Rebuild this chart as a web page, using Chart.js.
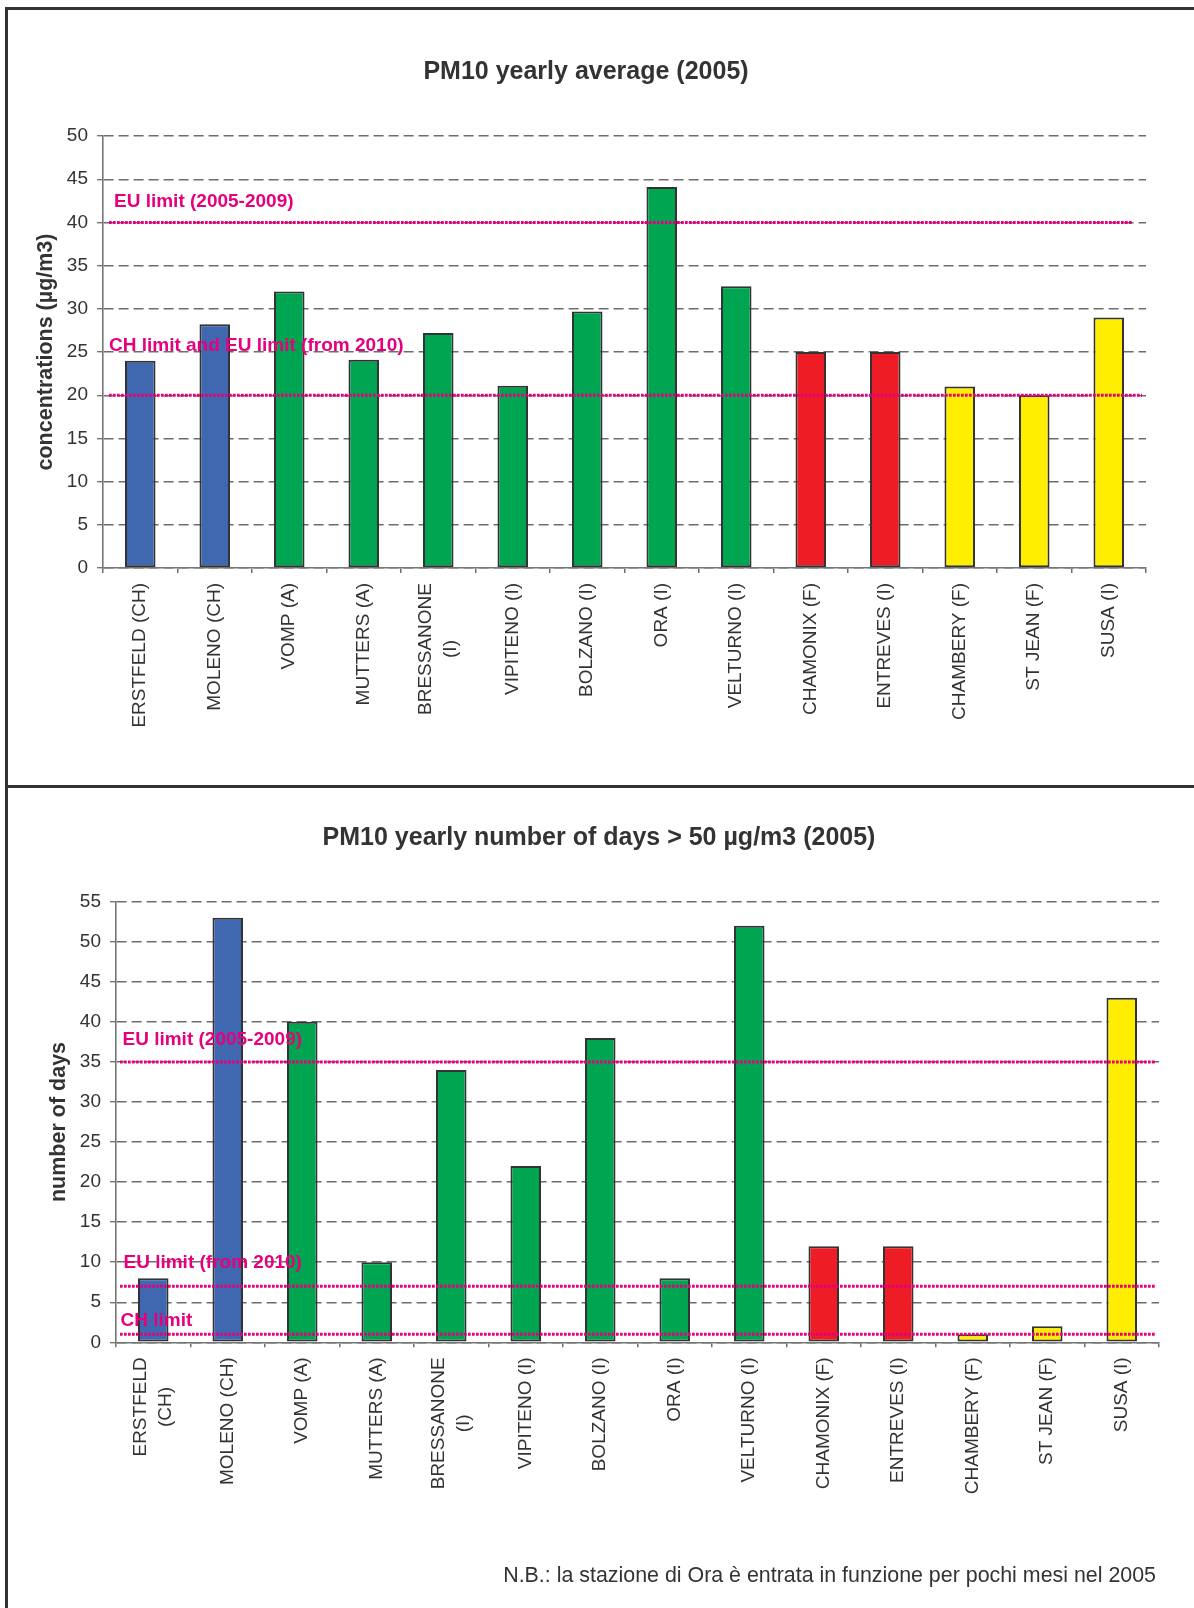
<!DOCTYPE html>
<html>
<head>
<meta charset="utf-8">
<script src="https://cdn.jsdelivr.net/npm/chart.js@4.4.0/dist/chart.umd.min.js"></script>
<style>
  html, body { margin: 0; padding: 0; background: #fff; }
  body { position: relative; width: 1194px; height: 1608px; overflow: hidden; font-family: "Liberation Sans", Arial, sans-serif; }
  canvas { position: absolute; left: 0; }
  #avgChart { top: 0; }
  #daysChart { top: 786px; }
  .rule { position: absolute; background: #333; }
  #note { position: absolute; right: 38px; top: 1562px; font-size: 21.4px; line-height: 26px; color: #333; white-space: nowrap; }
</style>
</head>
<body>
<canvas id="avgChart" width="1194" height="786"></canvas>
<canvas id="daysChart" width="1194" height="822"></canvas>
<div class="rule" style="left:5px; top:7px; width:1189px; height:3px;"></div>
<div class="rule" style="left:5px; top:7px; width:3px; height:1601px;"></div>
<div class="rule" style="left:5px; top:785px; width:1189px; height:3px;"></div>
<div id="note">N.B.: la stazione di Ora è entrata in funzione per pochi mesi nel 2005</div>
<script>
// Monitoring stations along the four Alpine transit corridors
const stations = ['ERSTFELD (CH)', 'MOLENO (CH)', 'VOMP (A)', 'MUTTERS (A)', 'BRESSANONE (I)', 'VIPITENO (I)',
  'BOLZANO (I)', 'ORA (I)', 'VELTURNO (I)', 'CHAMONIX (F)', 'ENTREVES (I)', 'CHAMBERY (F)', 'ST JEAN (F)', 'SUSA (I)'];
const avgLabels = ['ERSTFELD (CH)', 'MOLENO (CH)', 'VOMP (A)', 'MUTTERS (A)', ['BRESSANONE', '(I)'], 'VIPITENO (I)',
  'BOLZANO (I)', 'ORA (I)', 'VELTURNO (I)', 'CHAMONIX (F)', 'ENTREVES (I)', 'CHAMBERY (F)', 'ST JEAN (F)', 'SUSA (I)'];
const daysLabels = [['ERSTFELD', '(CH)'], 'MOLENO (CH)', 'VOMP (A)', 'MUTTERS (A)', ['BRESSANONE', '(I)'], 'VIPITENO (I)',
  'BOLZANO (I)', 'ORA (I)', 'VELTURNO (I)', 'CHAMONIX (F)', 'ENTREVES (I)', 'CHAMBERY (F)', 'ST JEAN (F)', 'SUSA (I)'];
const corridor = ['Gotthard', 'Gotthard', 'Brenner', 'Brenner', 'Brenner', 'Brenner', 'Brenner', 'Brenner', 'Brenner',
  'Mont Blanc', 'Mont Blanc', 'Frejus', 'Frejus', 'Frejus'];

// PM10 yearly average concentration (µg/m3)
const yearlyAverage = [24, 28.2, 32, 24.1, 27.2, 21.1, 29.7, 44.1, 32.6, 25, 25, 21, 20, 29];
// number of days with PM10 daily mean > 50 µg/m3
const daysOver50 = [8, 53, 40, 10, 34, 22, 38, 8, 52, 12, 12, 1, 2, 43];

// limit values
const avgLimits = [40, 20];
const avgLimitNames = ['EU limit (2005-2009)', 'CH limit and EU limit (from 2010)'];
const dayLimits = [35, 7, 1];
const dayLimitNames = ['EU limit (2005-2009)', 'EU limit (from 2010)', 'CH limit'];

// value axes
const avgAxis = { min: 0, max: 50, step: 5 };
const daysAxis = { min: 0, max: 55, step: 5 };

const FONT = '"Liberation Sans", Arial, sans-serif';
const corridorColor = { 'Gotthard': '#3F68B1', 'Brenner': '#00A551', 'Mont Blanc': '#EE1D25', 'Frejus': '#FFEE00' };
const MAGENTA = '#E6007E';
const TEXT = '#333333';
const GRID = '#6d6d6d';

// horizontal dotted limit lines with their captions, placed through the y scale
const limitLines = {
  id: 'limitLines',
  afterDatasetsDraw(chart, args, opts) {
    const { ctx, chartArea } = chart;
    const ys = chart.scales.y;
    ctx.save();
    opts.values.forEach((v, i) => {
      const y = ys.getPixelForValue(v);
      ctx.beginPath();
      ctx.setLineDash([2.7, 1.3]);
      ctx.lineWidth = 3;
      ctx.strokeStyle = MAGENTA;
      ctx.moveTo(chartArea.left + opts.insetLeft, y);
      ctx.lineTo(chartArea.right - opts.insetRight[i], y);
      ctx.stroke();
    });
    ctx.setLineDash([]);
    ctx.font = 'bold 19px ' + FONT;
    ctx.fillStyle = MAGENTA;
    ctx.textAlign = 'left';
    ctx.textBaseline = 'alphabetic';
    opts.values.forEach((v, i) => {
      const y = ys.getPixelForValue(v);
      ctx.fillText(opts.names[i], chartArea.left + opts.textX[i], y - opts.textRise[i]);
    });
    ctx.restore();
  }
};

// vertical station names under the category axis, wrapped lines centred on each other
const stationNames = {
  id: 'stationNames',
  afterDraw(chart, args, opts) {
    const { ctx, chartArea } = chart;
    const xs = chart.scales.x;
    ctx.save();
    ctx.font = '19px ' + FONT;
    ctx.fillStyle = TEXT;
    ctx.textAlign = 'center';
    ctx.textBaseline = 'middle';
    chart.data.labels.forEach((lab, i) => {
      const lines = Array.isArray(lab) ? lab : [lab];
      const w = Math.max(...lines.map(l => ctx.measureText(l).width));
      const cx = xs.getPixelForValue(i);
      const cy = chartArea.bottom + opts.gap + w / 2;
      lines.forEach((line, j) => {
        ctx.save();
        ctx.translate(cx + (j - (lines.length - 1) / 2) * opts.lineGap, cy);
        ctx.rotate(-Math.PI / 2);
        ctx.fillText(line, 0, 0);
        ctx.restore();
      });
    });
    ctx.restore();
  }
};

function makeChart(id, cfg) {
  const colors = corridor.map(c => corridorColor[c]);
  return new Chart(document.getElementById(id), {
    type: 'bar',
    data: {
      labels: cfg.labels,
      datasets: [{
        data: cfg.values,
        backgroundColor: colors,
        borderColor: '#333333',
        borderWidth: 2,
        borderSkipped: false,
        categoryPercentage: 1,
        barPercentage: 0.41
      }]
    },
    options: {
      responsive: false,
      animation: false,
      devicePixelRatio: 1,
      layout: { padding: { left: cfg.padLeft, right: cfg.padRight, top: 0, bottom: 0 } },
      plugins: {
        legend: { display: false },
        tooltip: { enabled: false },
        title: {
          display: true,
          text: cfg.title,
          color: TEXT,
          font: { family: FONT, size: 25, weight: 'bold', lineHeight: 1.2 },
          padding: { top: cfg.titleTop, bottom: cfg.titleBottom }
        },
        limitLines: cfg.limits,
        stationNames: { gap: 15, lineGap: 25 }
      },
      scales: {
        x: {
          ticks: { display: false },
          grid: { display: true, drawOnChartArea: false, drawTicks: true, tickLength: 5, color: GRID, lineWidth: 1.5, offset: true },
          border: { display: true, color: '#767676', width: 1.6 },
          afterFit: s => { s.height = cfg.xHeight; }
        },
        y: {
          min: cfg.axis.min,
          max: cfg.axis.max,
          ticks: { stepSize: cfg.axis.step, color: TEXT, padding: 9, font: { family: FONT, size: 19 } },
          grid: { color: GRID, lineWidth: 1.4, tickLength: 6, tickColor: '#767676', tickBorderDash: [] },
          border: { display: true, color: '#767676', width: 1.6, dash: [10, 5] },
          title: {
            display: true,
            text: cfg.yTitle,
            color: TEXT,
            font: { family: FONT, size: 21.5, weight: 'bold', lineHeight: 1.2 },
            padding: { top: cfg.yTitlePad, bottom: 0 }
          },
          afterFit: s => { s.width = cfg.yWidth; }
        }
      }
    },
    plugins: [limitLines, stationNames]
  });
}

makeChart('avgChart', {
  labels: avgLabels,
  values: yearlyAverage,
  title: 'PM10 yearly average (2005)',
  yTitle: 'concentrations (µg/m3)',
  axis: avgAxis,
  padLeft: 26, padRight: 48,
  titleTop: 57, titleBottom: 49,
  xHeight: 218, yWidth: 77, yTitlePad: 7.5,
  limits: { values: avgLimits, names: avgLimitNames, insetLeft: 6, insetRight: [14, 4], textX: [11, 6], textRise: [15, 44] }
});

makeChart('daysChart', {
  labels: daysLabels,
  values: daysOver50,
  title: 'PM10 yearly number of days > 50 µg/m3 (2005)',
  yTitle: 'number of days',
  axis: daysAxis,
  padLeft: 39, padRight: 35,
  titleTop: 37, titleBottom: 48.7,
  xHeight: 265.7, yWidth: 77, yTitlePad: 7,
  limits: { values: dayLimits, names: dayLimitNames, insetLeft: 4, insetRight: [3, 3, 3], textX: [6.5, 7.5, 4.5], textRise: [17, 18, 8] }
});
</script>
</body>
</html>
